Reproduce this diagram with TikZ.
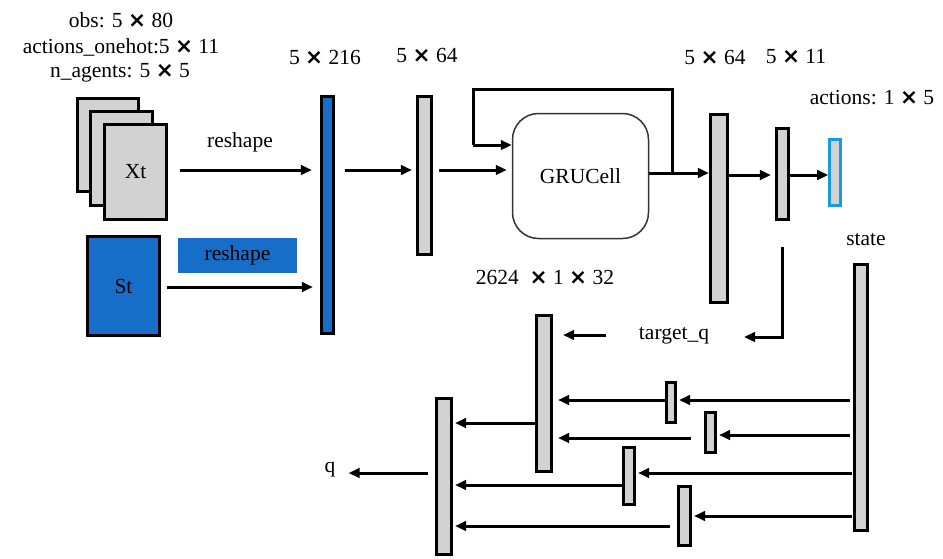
\documentclass[tikz,border=0pt]{standalone}
\usepackage{fontspec}
\setmainfont{Liberation Serif}
\newfontfamily\crossfont{DejaVu Sans}
\usetikzlibrary{arrows.meta}
\definecolor{netblue}{RGB}{22,110,200}
\definecolor{outblue}{RGB}{20,155,225}
\definecolor{barfill}{RGB}{210,210,210}
% multiplication sign used in the size labels
\newcommand{\tms}{{\crossfont\bfseries ×}}
\tikzset{
  lbl/.style={inner sep=0pt, font=\fontsize{21.5}{25}\selectfont},
  bar/.style={draw=black, line width=3.2pt, fill=barfill, inner sep=0pt},
  bluebar/.style={bar, fill=netblue},
  sheet/.style={bar, line width=2.8pt},
  link/.style={line width=3pt},
  arr/.style={link, -{Triangle[length=11pt,width=9.5pt]}},
}
\newcommand{\barat}[5]{\node[#1, minimum width=#4pt, minimum height=#5pt] (#2) at (#3) {};}
\begin{document}
\begin{tikzpicture}[x=1pt,y=-1pt]
\useasboundingbox (0,0) rectangle (943,558);

% input labels
\node[lbl] (lobs) at (121,20) {obs: 5 \tms\ 80};
\node[lbl] (lact) at (121,47) {actions\_onehot:5 \tms\ 11};
\node[lbl] (lag)  at (120,73) {n\_agents: 5 \tms\ 5};

% stacked observation sheets
\barat{sheet}{xt1}{108,145}{61}{93}
\barat{sheet}{xt2}{121.5,158.5}{62}{94}
\barat{sheet}{xt3}{135.5,172}{62}{95}
\node[lbl] (xtt) at (xt3) {Xt};

% state input
\barat{bluebar}{st}{123.5,286}{72}{99}
\node[lbl] (stt) at (st) {St};
\node[fill=netblue, minimum width=119pt, minimum height=35pt, inner sep=0pt] (rsb) at (237.5,255.5) {};
\node[lbl] (rsbt) at (rsb) {reshape};
\node[lbl] (rst) at (240,142) {reshape};

% encoder layers
\barat{bluebar}{b216}{327.5,215}{12}{237}
\barat{bar}{b64a}{424.5,175.5}{14}{158}
\node[draw=black!80, line width=1.5pt, rounded corners=26pt, minimum width=136pt,
      minimum height=125pt, inner sep=0pt] (gru) at (580.5,176) {};
\node[lbl] (grut) at (gru) {GRUCell};
\barat{bar}{b64b}{719,208.5}{17}{188}
\barat{bar}{b11}{782.5,174}{12}{91}
\node[draw=outblue, line width=2.6pt, fill=barfill, inner sep=0pt,
      minimum width=11pt, minimum height=66pt] (act) at (835,172.5) {};

% size labels
\node[lbl] (l216) at (325,57) {5 \tms\ 216};
\node[lbl] (l64a) at (427,55) {5 \tms\ 64};
\node[lbl] (l64b) at (715,57) {5 \tms\ 64};
\node[lbl] (l11)  at (796,57) {5 \tms\ 11};
\node[lbl] (lacts) at (872,98) {actions: 1 \tms\ 5};
\node[lbl] (lhid) at (545,277) {2624 \ \tms\ 1 \tms\ 32};
\node[lbl] (lstate) at (866,240) {state};
\node[lbl] (ltq) at (674,336) {target\_q};
\node[lbl] (lq) at (330,470) {q};

% mixing layers
\barat{bar}{sb}{861,397.5}{13}{266}
\barat{bar}{ma}{544,393.5}{15}{156}
\barat{bar}{mb}{444,476.5}{15}{156}
\barat{bar}{s1}{671,402.5}{9}{40}
\barat{bar}{s2}{710.5,432.5}{10}{40}
\barat{bar}{s3}{629,476}{11}{57}
\barat{bar}{s4}{684.5,516}{12}{59}

% encoder connections
\draw[arr, shorten <=12pt, shorten >=8pt] (xt3.east |- 0,170) -- (b216.west |- 0,170);
\draw[arr, shorten <=6pt, shorten >=7pt] (st.east |- 0,287) -- (b216.west |- 0,287);
\draw[arr, shorten <=10pt, shorten >=4pt] (b216.east |- 0,170) -- (b64a.west |- 0,170);
\draw[arr, shorten <=6pt, shorten >=5pt] (b64a.east |- 0,170) -- (gru.west |- 0,170);
\coordinate (loop) at (672,173);
\draw[link, line join=miter] (loop) -- (672,89) -- (473,89) -- (473,145);
\draw[arr] (473,145) -- (gru.west |- 0,145);
\draw[arr] (gru.east |- 0,173) -- (b64b.west |- 0,173);
\draw[arr, shorten >=4pt] (b64b.east |- 0,175) -- (b11.west |- 0,175);
\draw[arr] (b11.east |- 0,175) -- (act.west |- 0,175);
\coordinate (tqin) at (744,337);
\draw[arr] ([yshift=-26pt]b11.south) |- (tqin);
\draw[arr, shorten <=33pt, shorten >=10pt] (ltq.west |- 0,335) -- (ma.east |- 0,335);

% mixing connections
\draw[arr, shorten <=3pt, shorten >=2pt] (sb.west |- 0,400) -- (s1.east |- 0,400);
\draw[arr, shorten >=5pt] (s1.west |- 0,400) -- (ma.east |- 0,400);
\draw[arr, shorten <=3pt, shorten >=2pt] (sb.west |- 0,435) -- (s2.east |- 0,435);
\draw[arr, shorten <=13pt, shorten >=5pt] (s2.west |- 0,438) -- (ma.east |- 0,438);
\draw[arr, shorten <=1pt, shorten >=2pt] (sb.west |- 0,473) -- (s3.east |- 0,473);
\draw[arr, shorten >=2pt] (s3.west |- 0,485) -- (mb.east |- 0,485);
\draw[arr, shorten <=1pt, shorten >=2pt] (sb.west |- 0,516) -- (s4.east |- 0,516);
\draw[arr, shorten <=7pt, shorten >=2pt] (s4.west |- 0,526) -- (mb.east |- 0,526);
\draw[arr, shorten >=2pt] (ma.west |- 0,423) -- (mb.east |- 0,423);
\draw[arr, shorten <=7pt, shorten >=13pt] (mb.west |- 0,473) -- (lq.east |- 0,473);
\end{tikzpicture}
\end{document}
